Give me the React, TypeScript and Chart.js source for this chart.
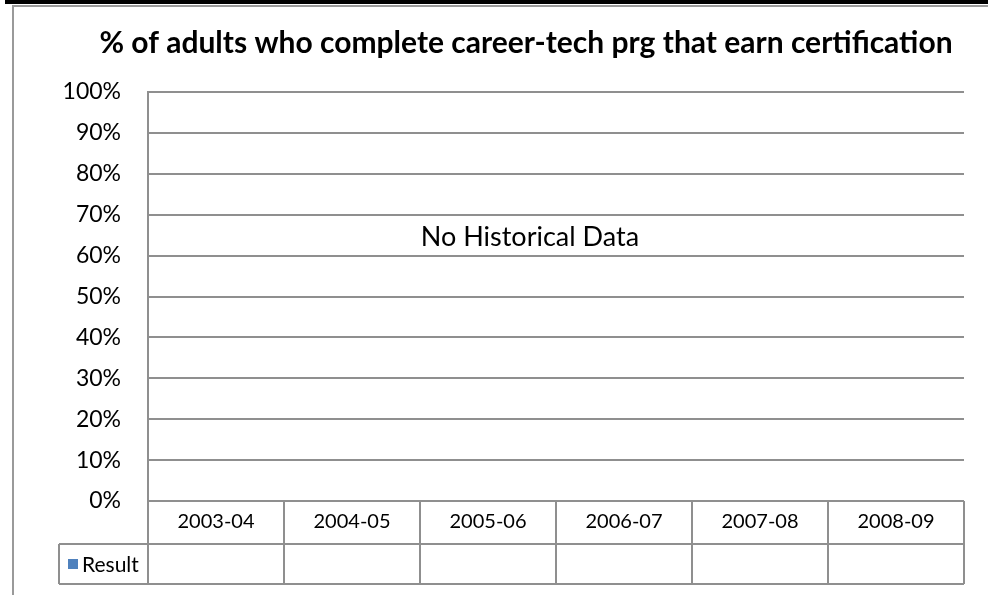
import React, { useEffect, useRef } from "react";
import { Chart, registerables } from "chart.js";

Chart.register(...registerables);

const TITLE = "% of adults who complete career-tech prg that earn certification";
const CATEGORIES = ["2003-04", "2004-05", "2005-06", "2006-07", "2007-08", "2008-09"];
const SERIES_NAME = "Result";
const RESULT_VALUES: (number | null)[] = [null, null, null, null, null, null];
const Y_MIN = 0;
const Y_MAX = 1;
const Y_STEP = 0.1;
const NO_DATA_TEXT = "No Historical Data";

const FONT = "Lato, 'Liberation Sans', sans-serif";
const GRID = "#8f8f8f";
const BAR = "#4f81bd";

const frameAndTable = {
  id: "frameAndTable",
  beforeDraw(chart: any) {
    const ctx = chart.ctx;
    ctx.save();
    ctx.fillStyle = "#ffffff";
    ctx.fillRect(0, 0, chart.width, chart.height);
    // top cell border
    ctx.fillStyle = "#000000";
    ctx.fillRect(5, 0, chart.width - 5, 4);
    // chart frame
    ctx.strokeStyle = "#9a9a9a";
    ctx.lineWidth = 2;
    ctx.beginPath();
    ctx.moveTo(13, chart.height + 2);
    ctx.lineTo(13, 6);
    ctx.lineTo(chart.width + 2, 6);
    ctx.stroke();
    ctx.restore();
  },
  afterDraw(chart: any) {
    const ctx = chart.ctx;
    const xs = chart.scales.x;
    const ys = chart.scales.y;
    const area = chart.chartArea;
    const n = CATEGORIES.length;
    const half = (xs.getPixelForTick(1) - xs.getPixelForTick(0)) / 2;
    const top = area.bottom;
    const mid = top + 43;
    const bot = mid + 40;
    const legLeft = 59;
    ctx.save();
    // title
    ctx.fillStyle = "#000000";
    ctx.font = `bold 30px ${FONT}`;
    ctx.textAlign = "center";
    ctx.textBaseline = "middle";
    ctx.fillText(TITLE, 526, 43);
    // table
    ctx.strokeStyle = GRID;
    ctx.lineWidth = 2;
    ctx.beginPath();
    for (let i = 0; i <= n; i++) {
      const x = i < n ? xs.getPixelForTick(i) - half : xs.getPixelForTick(n - 1) + half;
      ctx.moveTo(x, top);
      ctx.lineTo(x, bot);
    }
    const right = xs.getPixelForTick(n - 1) + half;
    ctx.moveTo(legLeft, mid);
    ctx.lineTo(right, mid);
    ctx.moveTo(legLeft, bot);
    ctx.lineTo(right, bot);
    ctx.moveTo(legLeft, mid);
    ctx.lineTo(legLeft, bot);
    ctx.stroke();
    // legend key
    const cy = (mid + bot) / 2;
    ctx.fillStyle = BAR;
    ctx.fillRect(68, cy - 5, 10, 10);
    ctx.fillStyle = "#000000";
    ctx.font = `21px ${FONT}`;
    ctx.textAlign = "left";
    ctx.fillText(SERIES_NAME, 82, cy + 1);
    // values
    ctx.textAlign = "center";
    RESULT_VALUES.forEach((v, i) => {
      if (v !== null) ctx.fillText(Math.round(v * 100) + "%", xs.getPixelForTick(i), cy + 1);
    });
    // no data note
    ctx.font = `27px ${FONT}`;
    ctx.fillText(NO_DATA_TEXT, area.left + 0.468 * (area.right - area.left), ys.getPixelForValue(0.645));
    ctx.restore();
  },
};

export default function App() {
  const ref = useRef<HTMLCanvasElement>(null);
  useEffect(() => {
    if (!ref.current) return;
    const chart = new Chart(ref.current, {
      type: "bar",
      data: {
        labels: CATEGORIES,
        datasets: [{ label: SERIES_NAME, data: RESULT_VALUES as any, backgroundColor: BAR }],
      },
      options: {
        responsive: false,
        animation: false,
        layout: { padding: { left: 13, right: 24, top: 92, bottom: 0 } },
        plugins: {
          legend: { display: false },
          tooltip: { enabled: false },
          title: { display: false },
        },
        scales: {
          x: {
            offset: true,
            grid: { display: false, drawTicks: false },
            border: { display: false },
            ticks: { color: "#000000", font: { family: FONT, size: 20 }, padding: 9, maxRotation: 0 },
            afterFit: (s: any) => { s.height = 94; },
          },
          y: {
            min: Y_MIN,
            max: Y_MAX,
            grid: { color: GRID, lineWidth: 2, drawTicks: false },
            border: { display: true, color: GRID, width: 2 },
            ticks: {
              stepSize: Y_STEP,
              color: "#000000",
              padding: 27,
              font: { family: FONT, size: 23 },
              callback: (v: any) => Math.round(Number(v) * 100) + "%",
            },
            afterFit: (s: any) => { s.width = 135; },
          },
        },
      },
      plugins: [frameAndTable],
    });
    return () => chart.destroy();
  }, []);
  return (
    <div style={{ position: "fixed", left: 0, top: 0, width: 988, height: 595 }}>
      <canvas ref={ref} width={988} height={595} style={{ display: "block" }} />
    </div>
  );
}
